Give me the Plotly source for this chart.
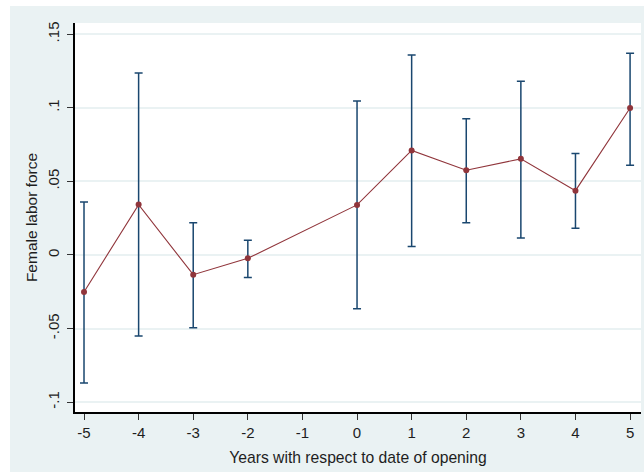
import plotly.graph_objects as go

years = [-5, -4, -3, -2, 0, 1, 2, 3, 4, 5]
estimate = [-0.0252, 0.0342, -0.0134, -0.0023, 0.0340, 0.0710, 0.0576, 0.0653, 0.0437, 0.0998]
ci_upper = [0.0360, 0.1236, 0.0218, 0.0100, 0.1046, 0.1358, 0.0925, 0.1180, 0.0689, 0.1370]
ci_lower = [-0.0870, -0.0551, -0.0494, -0.0154, -0.0365, 0.0057, 0.0218, 0.0116, 0.0182, 0.0610]

x_ticks = [-5, -4, -3, -2, -1, 0, 1, 2, 3, 4, 5]
y_ticks = [-0.1, -0.05, 0, 0.05, 0.1, 0.15]
y_ticklabels = ["-.1", "-.05", "0", ".05", ".1", ".15"]

NAVY = "#1a476f"
MAROON = "#90353b"
BG = "#eaf2f3"
FONT = "Liberation Sans, Arial, sans-serif"
TXT = "#1e1e1e"

err_plus = [u - e for u, e in zip(ci_upper, estimate)]
err_minus = [e - l for e, l in zip(estimate, ci_lower)]

fig = go.Figure()
fig.add_trace(go.Scatter(
    x=years, y=estimate, mode="markers",
    marker=dict(color="rgba(0,0,0,0)", size=1),
    error_y=dict(type="data", symmetric=False, array=err_plus, arrayminus=err_minus,
                 color=NAVY, thickness=1.5, width=4),
    showlegend=False, hoverinfo="skip",
))
fig.add_trace(go.Scatter(
    x=years, y=estimate, mode="lines+markers",
    line=dict(color=MAROON, width=1.1),
    marker=dict(color=MAROON, size=6, symbol="circle"),
    showlegend=False,
))

fig.update_layout(
    width=644, height=472,
    margin=dict(l=75, r=3, t=23, b=60),
    paper_bgcolor=BG,
    plot_bgcolor="white",
    font=dict(family=FONT, size=15, color=TXT),
    xaxis=dict(
        range=[-5.165, 5.20], tickmode="array", tickvals=x_ticks,
        ticktext=[str(v) for v in x_ticks],
        showgrid=False, zeroline=False,
        showline=True, linecolor="black", linewidth=1.5,
        ticks="outside", ticklen=6, tickwidth=1.2, tickcolor="#333333",
        tickfont=dict(size=15, family=FONT, color=TXT),
        title=dict(text="Years with respect to date of opening", standoff=12,
                   font=dict(size=15.7, family=FONT, color=TXT)),
    ),
    yaxis=dict(
        range=[-0.1067, 0.1576], tickmode="array", tickvals=y_ticks,
        ticktext=y_ticklabels, tickangle=-90, ticklabelstandoff=2,
        showgrid=True, gridcolor=BG, gridwidth=1.5, zeroline=False,
        showline=True, linecolor="black", linewidth=1.5,
        ticks="outside", ticklen=6, tickwidth=1.2, tickcolor="#333333",
        tickfont=dict(size=15, family=FONT, color=TXT),
        title=dict(text="Female labor force", standoff=4,
                   font=dict(size=15.5, family=FONT, color=TXT)),
    ),
    shapes=[
        dict(type="rect", xref="paper", yref="paper", x0=-0.2, x1=(10 - 75) / 566,
             y0=-0.2, y1=1.2, fillcolor="white", line=dict(width=0), layer="below"),
        dict(type="rect", xref="paper", yref="paper", x0=-0.2, x1=1.1,
             y0=(412 - 6) / 389, y1=1.2, fillcolor="white", line=dict(width=0), layer="below"),
    ],
)

fig.write_html("out.html")
